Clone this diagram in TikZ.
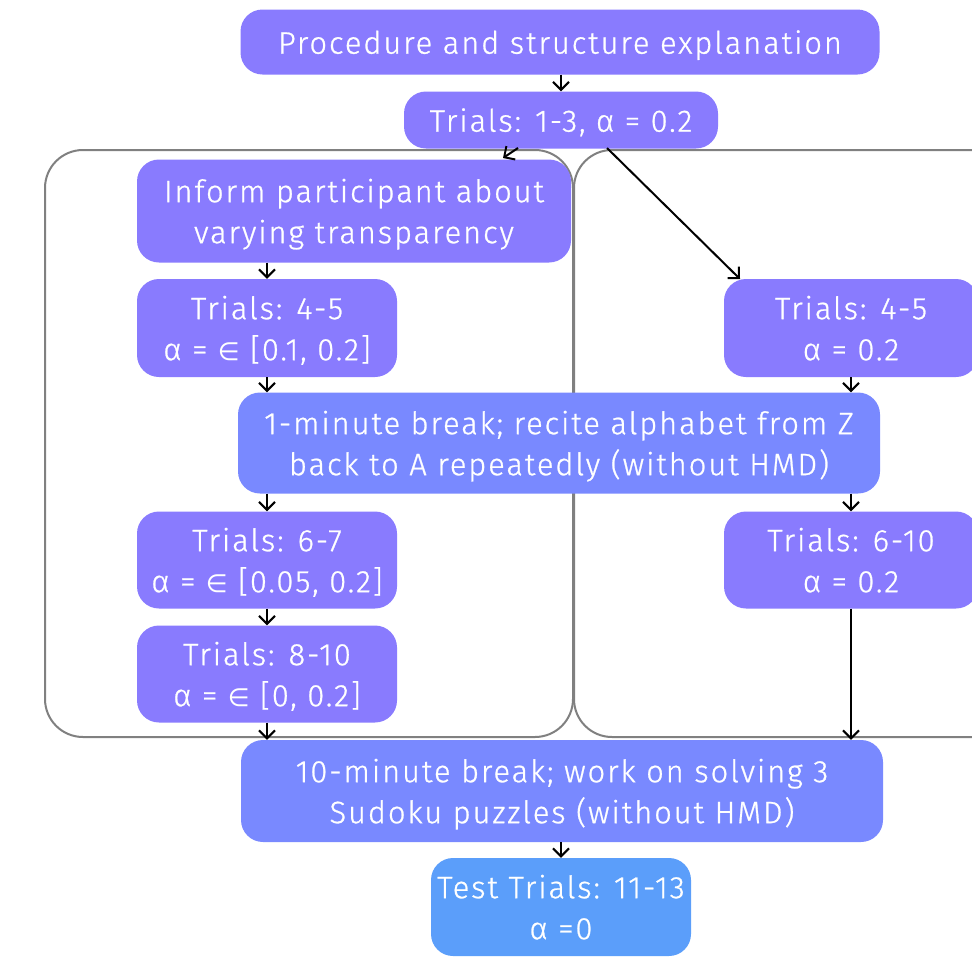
\documentclass[tikz,border=0pt]{standalone}
\usepackage{fontspec}
\setmainfont{Fira Sans Light}[LetterSpace=6, FakeBold=0.8]
\newfontfamily\symf{DejaVu Sans}
\usetikzlibrary{arrows.meta}
\definecolor{purp}{RGB}{137,123,254}
\definecolor{bluep}{RGB}{121,137,255}
\definecolor{testb}{RGB}{91,158,250}
\definecolor{grp}{RGB}{128,128,128}
\newcommand{\inn}{{\fontsize{25}{41}\symf ∈}}
\tikzset{
  x=1pt, y=-1pt,
  stepbox/.style={rounded corners=22pt, fill=purp, text=white, align=center, inner sep=0pt,
    text depth=0pt, font=\fontsize{31}{41}\selectfont},
  grpbox/.style={draw=grp, line width=2pt, rounded corners=38pt},
  arr/.style={draw=black, line width=2pt, -{Straight Barb[length=8pt,width=16pt,line width=2pt]}}
}
\begin{document}
\begin{tikzpicture}
\useasboundingbox (0,0) rectangle (972,959);
\clip (0,0) rectangle (972,959);
% group boxes
\draw[grpbox] (45,150) rectangle (573,737);
\draw[grpbox] (574,150) rectangle (1030,737);
% nodes
\node[stepbox, minimum width=639pt, minimum height=65pt] (proc) at (560,42) {Procedure and structure explanation};
\node[stepbox, minimum width=314pt, minimum height=57pt] (t13) at (561,120) {Trials: 1-3, α = 0.2};
\node[stepbox, minimum width=434pt, minimum height=103pt] (inform) at (354,211) {Inform participant about\\varying transparency};
\node[stepbox, minimum width=260pt, minimum height=98pt] (t45l) at (267,328) {Trials: 4-5\\α = \inn{} [0.1, 0.2]};
\node[stepbox, minimum width=254pt, minimum height=98pt] (t45r) at (851,328) {Trials: 4-5\\α = 0.2};
\node[stepbox, fill=bluep, minimum width=642pt, minimum height=101pt] (brk1) at (559,443) {1-minute break; recite alphabet from Z\\back to A repeatedly (without HMD)};
\node[stepbox, minimum width=260pt, minimum height=97pt] (t67) at (267,560) {Trials: 6-7\\α = \inn{} [0.05, 0.2]};
\node[stepbox, minimum width=254pt, minimum height=97pt] (t610) at (851,560) {Trials: 6-10\\α = 0.2};
\node[stepbox, minimum width=260pt, minimum height=97pt] (t810) at (267,674) {Trials: 8-10\\α = \inn{} [0, 0.2]};
\node[stepbox, fill=bluep, minimum width=642pt, minimum height=102pt] (brk10) at (562,791) {10-minute break; work on solving 3\\Sudoku puzzles (without HMD)};
\node[stepbox, fill=testb, minimum width=260pt, minimum height=98pt] (test) at (561,907) {Test Trials: 11-13\\α =0};
% helper coordinates
\coordinate (a1) at (518,148);
\coordinate (a2) at (503,158);
\coordinate (b1) at (607,148);
\coordinate (b2) at (740,279);
% connectors
\draw[arr] (proc.south -| t13) -- (t13.north);
\draw[arr] (a1) -- (a2);
\draw[arr] (b1) -- (b2);
\draw[arr] (inform.south -| t45l) -- (t45l.north);
\draw[arr] (t45l.south) -- (brk1.north -| t45l);
\draw[arr] (t45r.south) -- (brk1.north -| t45r);
\draw[arr] (brk1.south -| t67) -- (t67.north);
\draw[arr] (brk1.south -| t610) -- (t610.north);
\draw[arr] (t67.south) -- (t810.north);
\draw[arr] (t810.south) -- (brk10.north -| t810);
\draw[arr] (t610.south) -- (brk10.north -| t610);
\draw[arr] (brk10.south -| test) -- (test.north);
\end{tikzpicture}
\end{document}
